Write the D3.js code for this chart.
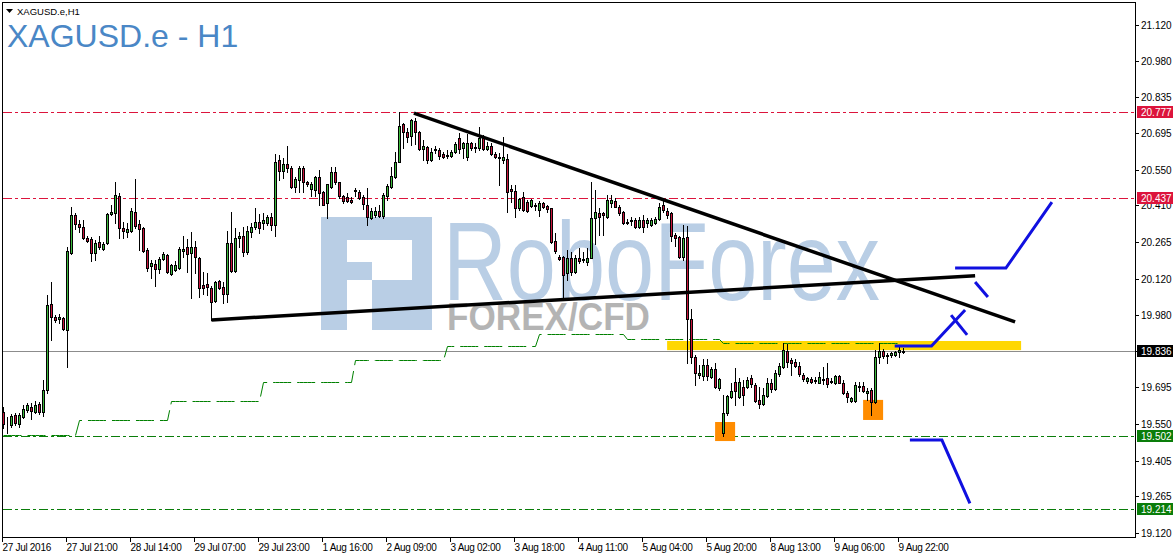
<!DOCTYPE html>
<html>
<head>
<meta charset="utf-8">
<script src="https://cdn.jsdelivr.net/npm/d3@7"></script>
<style>
  html, body { margin: 0; padding: 0; background: #ffffff; }
  svg { display: block; font-family: "Liberation Sans", Arial, sans-serif; }
</style>
</head>
<body>
<svg id="chart" width="1175" height="558"></svg>
<script>
// XAGUSD.e H1 candles, one entry per hourly bar (bar 0 = 27 Jul 2016)
const opens = [19.596,19.548,19.545,19.584,19.549,19.576,19.604,19.616,19.596,19.627,19.596,19.683,20.022,19.970,19.963,19.966,19.919,20.222,20.372,20.337,20.325,20.281,20.277,20.222,20.266,20.238,20.262,20.376,20.380,20.447,20.321,20.305,20.309,20.384,20.337,20.321,20.234,20.171,20.179,20.159,20.199,20.214,20.140,20.155,20.163,20.230,20.246,20.222,20.246,20.203,20.096,20.100,20.084,20.033,20.112,20.088,20.061,20.262,20.151,20.281,20.289,20.226,20.305,20.325,20.344,20.341,20.341,20.364,20.333,20.588,20.545,20.573,20.557,20.482,20.510,20.557,20.502,20.474,20.470,20.521,20.463,20.419,20.482,20.541,20.502,20.447,20.443,20.431,20.466,20.463,20.443,20.411,20.360,20.372,20.388,20.368,20.447,20.482,20.521,20.581,20.730,20.699,20.683,20.742,20.699,20.632,20.640,20.588,20.628,20.628,20.612,20.608,20.604,20.620,20.675,20.636,20.600,20.655,20.640,20.636,20.675,20.632,20.644,20.612,20.600,20.588,20.592,20.474,20.466,20.399,20.443,20.423,20.407,20.407,20.392,20.419,20.407,20.399,20.270,20.207,20.207,20.144,20.203,20.148,20.203,20.195,20.187,20.203,20.360,20.380,20.380,20.364,20.419,20.427,20.403,20.384,20.344,20.348,20.352,20.325,20.352,20.341,20.333,20.341,20.356,20.411,20.388,20.380,20.293,20.285,20.207,20.285,19.962,19.813,19.742,19.738,19.781,19.734,19.766,19.691,19.514,19.592,19.655,19.714,19.655,19.695,19.695,19.730,19.703,19.644,19.628,19.659,19.711,19.687,19.746,19.773,19.836,19.801,19.793,19.777,19.742,19.718,19.726,19.718,19.711,19.726,19.730,19.714,19.711,19.738,19.711,19.671,19.640,19.640,19.695,19.699,19.671,19.683,19.636,19.813,19.836,19.817,19.821,19.821,19.833,19.833];
const highs = [19.616,19.576,19.588,19.592,19.592,19.623,19.631,19.631,19.640,19.636,19.722,20.057,20.108,19.978,19.982,19.970,20.246,20.403,20.380,20.352,20.352,20.289,20.285,20.274,20.289,20.266,20.380,20.411,20.502,20.459,20.344,20.341,20.399,20.514,20.352,20.325,20.242,20.195,20.195,20.207,20.226,20.218,20.179,20.191,20.246,20.289,20.277,20.305,20.270,20.207,20.148,20.144,20.092,20.112,20.116,20.108,20.309,20.384,20.321,20.305,20.325,20.329,20.341,20.399,20.376,20.380,20.372,20.380,20.612,20.608,20.596,20.644,20.565,20.521,20.565,20.565,20.506,20.502,20.525,20.549,20.466,20.494,20.561,20.561,20.502,20.451,20.459,20.443,20.478,20.470,20.451,20.478,20.399,20.403,20.411,20.459,20.494,20.561,20.620,20.777,20.734,20.714,20.750,20.754,20.703,20.667,20.644,20.636,20.644,20.636,20.620,20.628,20.628,20.659,20.695,20.659,20.691,20.659,20.655,20.718,20.687,20.659,20.655,20.620,20.616,20.679,20.612,20.490,20.490,20.439,20.463,20.431,20.435,20.419,20.427,20.423,20.411,20.399,20.301,20.215,20.211,20.234,20.226,20.215,20.242,20.226,20.242,20.502,20.470,20.399,20.384,20.451,20.451,20.439,20.411,20.388,20.356,20.364,20.360,20.364,20.372,20.360,20.360,20.364,20.419,20.431,20.399,20.384,20.301,20.289,20.333,20.329,20.001,19.821,19.781,19.805,19.805,19.773,19.789,19.730,19.663,19.663,19.711,19.770,19.730,19.722,19.734,19.742,19.711,19.695,19.691,19.730,19.726,19.762,19.789,19.868,19.864,19.809,19.805,19.793,19.750,19.734,19.734,19.734,19.754,19.773,19.789,19.730,19.742,19.742,19.722,19.679,19.655,19.714,19.714,19.714,19.691,19.691,19.840,19.868,19.844,19.829,19.833,19.836,19.852,19.848];
const lows = [19.533,19.514,19.537,19.545,19.537,19.572,19.596,19.569,19.592,19.588,19.580,19.671,19.880,19.951,19.947,19.919,19.773,20.218,20.317,20.305,20.277,20.266,20.191,20.195,20.238,20.234,20.258,20.372,20.341,20.281,20.281,20.285,20.305,20.321,20.234,20.226,20.151,20.124,20.092,20.144,20.195,20.144,20.136,20.151,20.159,20.207,20.148,20.045,20.144,20.049,20.061,20.057,19.959,20.029,20.081,20.025,20.029,20.148,20.148,20.246,20.211,20.218,20.285,20.317,20.301,20.317,20.333,20.313,20.289,20.510,20.518,20.541,20.478,20.463,20.463,20.463,20.486,20.447,20.447,20.411,20.411,20.360,20.478,20.494,20.439,20.419,20.423,20.419,20.447,20.435,20.396,20.333,20.356,20.364,20.364,20.360,20.431,20.478,20.518,20.581,20.636,20.659,20.647,20.651,20.628,20.588,20.577,20.584,20.616,20.592,20.596,20.596,20.600,20.616,20.616,20.596,20.588,20.628,20.620,20.628,20.628,20.628,20.608,20.596,20.490,20.577,20.384,20.423,20.364,20.392,20.388,20.384,20.403,20.392,20.368,20.399,20.384,20.262,20.222,20.195,20.045,20.116,20.136,20.144,20.183,20.187,20.175,20.203,20.258,20.293,20.293,20.360,20.403,20.403,20.372,20.337,20.337,20.333,20.321,20.321,20.305,20.325,20.329,20.337,20.352,20.384,20.360,20.270,20.250,20.203,20.195,19.789,19.789,19.703,19.730,19.722,19.722,19.730,19.691,19.683,19.502,19.584,19.651,19.623,19.651,19.623,19.691,19.695,19.636,19.612,19.623,19.655,19.675,19.683,19.738,19.770,19.773,19.742,19.773,19.738,19.718,19.711,19.711,19.711,19.711,19.707,19.695,19.711,19.707,19.711,19.667,19.636,19.636,19.636,19.679,19.675,19.644,19.584,19.632,19.789,19.809,19.789,19.813,19.817,19.813,19.829];
const closes = [19.549,19.550,19.580,19.553,19.584,19.608,19.623,19.600,19.623,19.596,19.683,20.018,19.970,19.959,19.970,19.923,20.230,20.372,20.337,20.325,20.281,20.270,20.222,20.262,20.246,20.258,20.376,20.384,20.451,20.321,20.309,20.317,20.388,20.329,20.317,20.230,20.163,20.183,20.159,20.199,20.218,20.148,20.175,20.175,20.238,20.238,20.218,20.246,20.207,20.084,20.084,20.088,20.029,20.108,20.084,20.061,20.262,20.151,20.281,20.289,20.226,20.309,20.325,20.344,20.321,20.352,20.364,20.333,20.581,20.545,20.573,20.557,20.482,20.514,20.557,20.502,20.494,20.494,20.521,20.459,20.411,20.494,20.541,20.502,20.447,20.427,20.427,20.423,20.470,20.439,20.415,20.364,20.388,20.388,20.368,20.451,20.486,20.525,20.581,20.722,20.699,20.679,20.746,20.699,20.632,20.644,20.588,20.620,20.632,20.604,20.600,20.604,20.620,20.651,20.632,20.655,20.655,20.636,20.636,20.675,20.632,20.644,20.612,20.600,20.596,20.600,20.463,20.466,20.399,20.435,20.392,20.388,20.431,20.411,20.419,20.403,20.396,20.266,20.230,20.199,20.136,20.203,20.148,20.203,20.191,20.199,20.203,20.360,20.384,20.364,20.372,20.431,20.431,20.403,20.380,20.341,20.341,20.352,20.325,20.352,20.325,20.352,20.352,20.356,20.403,20.392,20.372,20.289,20.281,20.207,20.281,19.962,19.813,19.750,19.750,19.781,19.738,19.766,19.695,19.726,19.592,19.659,19.679,19.679,19.714,19.663,19.722,19.707,19.640,19.628,19.663,19.711,19.687,19.750,19.777,19.840,19.793,19.789,19.777,19.746,19.726,19.730,19.714,19.722,19.734,19.722,19.707,19.718,19.738,19.711,19.671,19.655,19.651,19.703,19.699,19.679,19.679,19.636,19.813,19.836,19.817,19.821,19.829,19.833,19.840,19.836];

// Stepped indicator: first bar of each step and its level
const stepStartBars = [0, 19, 42, 65, 88, 111, 134, 156, 180];
const stepLevels    = [19.504, 19.565, 19.640, 19.716, 19.801, 19.856, 19.903, 19.884, 19.870];

// Horizontal price levels
const resistanceLevels = [20.777, 20.437];
const supportLevels    = [19.502, 19.214];
const lastPrice = 19.836;

// Trend lines as [bar index, price] pairs
const fallingTrend = [[102.6, 20.773], [252.9, 19.951]];
const risingTrend  = [[52, 19.959], [242.9, 20.133]];

// Highlighted zones: [bar from, bar to, price high, price low]
const resistanceZone = [165.9, 254.4, 19.876, 19.840];
const bottomMarks = [[177.9, 182.9, 19.557, 19.482], [214.9, 219.9, 19.644, 19.565]];

// Projected paths as [bar index, price] points
const projUpA  = [[222.8, 19.856], [232.0, 19.856], [240.4, 19.998]];
const projUpA2 = [[236.9, 19.978], [240.9, 19.900]];
const projUpB  = [[237.9, 20.163], [250.6, 20.163], [262.1, 20.423]];
const projUpB2 = [[242.9, 20.108], [246.1, 20.049]];
const projDown = [[226.6, 19.486], [234.6, 19.486], [241.6, 19.237]];

// Axis labels
const timeLabelBars = [0,16,32,48,64,80,96,112,128,144,160,176,192,208,224];
const timeLabels = ["27 Jul 2016","27 Jul 21:00","28 Jul 14:00","29 Jul 07:00","29 Jul 23:00","1 Aug 16:00","2 Aug 09:00","3 Aug 02:00","3 Aug 18:00","4 Aug 11:00","5 Aug 04:00","5 Aug 20:00","8 Aug 13:00","9 Aug 06:00","9 Aug 22:00"];
const priceTicks = [21.120,20.980,20.835,20.695,20.550,20.410,20.265,20.120,19.980,19.835,19.695,19.550,19.405,19.265,19.120];

// ---------------------------------------------------------------
const svg = d3.select("#chart");
const frame = { left: 2.5, top: 2.5, right: 1135.5, bottom: 537.5 };

const x = d3.scaleLinear().domain([0, 1]).range([3.5, 7.5]);         // bar -> column centre
const y = d3.scaleLinear().domain([19.12, 21.12]).range([533, 25]);  // price -> pixel
const yr = p => Math.round(y(p)) + 0.5;

const COL = {
  bull: "#3cb93c", bear: "#c8143c", wick: "#000000",
  resist: "#dc143c", support: "#0a7d0a", step: "#008000",
  last: "#8c8c8c", trend: "#000000", zone: "#ffd700",
  mark: "#ff8c00", proj: "#1010e0", title: "#4a87c6",
  wmBlue: "#b9cee5", wmGray: "#b4b4b4"
};

svg.append("rect").attr("width", 1175).attr("height", 558).attr("fill", "#fff");

svg.append("defs").append("clipPath").attr("id", "plotClip")
  .append("rect").attr("x", 3).attr("y", 3).attr("width", 1132).attr("height", 534);

const plot = svg.append("g").attr("clip-path", "url(#plotClip)");

// ---- watermark ----
const wm = plot.append("g").attr("class", "watermark");
wm.append("path")
  .attr("fill", COL.wmBlue)
  .attr("fill-rule", "evenodd")
  .attr("d", "M321,217 H432 V330 H372 V280 H347 V330 H321 Z M347,240 V262 H412 V240 Z");
wm.append("rect").attr("x", 372).attr("y", 262).attr("width", 40).attr("height", 18)
  .attr("fill", "#fff");
wm.append("text")
  .attr("x", 443).attr("y", 300)
  .attr("font-size", 112).attr("fill", COL.wmBlue)
  .attr("textLength", 437).attr("lengthAdjust", "spacingAndGlyphs")
  .text("RoboForex");
wm.append("text")
  .attr("x", 447).attr("y", 330)
  .attr("font-size", 39).attr("font-weight", "bold").attr("fill", COL.wmGray)
  .attr("textLength", 203).attr("lengthAdjust", "spacingAndGlyphs")
  .text("FOREX/CFD");

// ---- horizontal levels ----
const levelLine = (p, color, dash) => plot.append("line")
  .attr("x1", 3).attr("x2", 1135).attr("y1", yr(p)).attr("y2", yr(p))
  .attr("stroke", color).attr("stroke-width", 1)
  .attr("stroke-dasharray", dash).attr("shape-rendering", "crispEdges");

resistanceLevels.forEach(p => levelLine(p, COL.resist, "9,3,3,3"));
supportLevels.forEach(p => levelLine(p, COL.support, "9,3,3,3"));
levelLine(lastPrice, COL.last, null);

// ---- zones ----
plot.append("rect")
  .attr("x", x(resistanceZone[0])).attr("width", x(resistanceZone[1]) - x(resistanceZone[0]))
  .attr("y", y(resistanceZone[2])).attr("height", y(resistanceZone[3]) - y(resistanceZone[2]))
  .attr("fill", COL.zone);

plot.selectAll("rect.mark").data(bottomMarks).join("rect").attr("class", "mark")
  .attr("x", d => x(d[0])).attr("width", d => x(d[1]) - x(d[0]))
  .attr("y", d => y(d[2])).attr("height", d => y(d[3]) - y(d[2]))
  .attr("fill", COL.mark);

// ---- stepped indicator ----
const nBars = opens.length;
const stepSeries = d3.range(nBars).map(i => {
  const k = d3.bisectRight(stepStartBars, i) - 1;
  return [i, stepLevels[k]];
});
plot.append("path")
  .attr("d", d3.line().x(d => x(d[0])).y(d => yr(d[1]))(stepSeries))
  .attr("fill", "none").attr("stroke", COL.step).attr("stroke-width", 1)
  .attr("stroke-dasharray", "18,6");

// ---- candles ----
const bars = d3.range(nBars).map(i => ({ i, o: opens[i], h: highs[i], l: lows[i], c: closes[i] }));
const cg = plot.append("g").attr("shape-rendering", "crispEdges");
cg.selectAll("line.wick").data(bars).join("line").attr("class", "wick")
  .attr("x1", d => x(d.i)).attr("x2", d => x(d.i))
  .attr("y1", d => Math.round(y(d.h))).attr("y2", d => Math.round(y(d.l)) + 1)
  .attr("stroke", COL.wick).attr("stroke-width", 1);
cg.selectAll("rect.body").data(bars).join("rect").attr("class", "body")
  .attr("x", d => x(d.i) - 1).attr("width", 2)
  .attr("y", d => yr(Math.max(d.o, d.c)))
  .attr("height", d => Math.max(0, yr(Math.min(d.o, d.c)) - yr(Math.max(d.o, d.c))))
  .attr("fill", d => d.c >= d.o ? COL.bull : COL.bear)
  .attr("stroke", "#000").attr("stroke-width", 1);

// ---- trend lines ----
const lineGen = d3.line().x(d => x(d[0])).y(d => y(d[1]));
[fallingTrend, risingTrend].forEach(t => plot.append("path")
  .attr("d", lineGen(t)).attr("fill", "none")
  .attr("stroke", COL.trend).attr("stroke-width", 3.5).attr("stroke-linecap", "butt"));

// ---- projections ----
[projUpA, projUpA2, projUpB, projUpB2, projDown].forEach(p => plot.append("path")
  .attr("d", lineGen(p)).attr("fill", "none")
  .attr("stroke", COL.proj).attr("stroke-width", 3).attr("stroke-linejoin", "miter"));

// ---- frame ----
svg.append("rect")
  .attr("x", frame.left).attr("y", frame.top)
  .attr("width", frame.right - frame.left).attr("height", frame.bottom - frame.top)
  .attr("fill", "none").attr("stroke", "#000").attr("stroke-width", 1)
  .attr("shape-rendering", "crispEdges");

// ---- price axis ----
const tagged = [...resistanceLevels, ...supportLevels, lastPrice];
const pa = svg.append("g").attr("font-size", 10).attr("fill", "#000");
priceTicks.forEach(p => {
  const yy = yr(p);
  pa.append("line").attr("x1", 1136).attr("x2", 1139).attr("y1", yy).attr("y2", yy)
    .attr("stroke", "#000").attr("shape-rendering", "crispEdges");
  // a tick label fully covered by a price tag is left out
  if (tagged.some(t => Math.abs(y(t) - y(p)) < 3)) return;
  pa.append("text").attr("x", 1141).attr("y", yy).attr("dy", "0.35em").text(p.toFixed(3));
});

const tag = (p, color) => {
  const yy = Math.round(y(p));
  svg.append("rect").attr("x", 1137).attr("y", yy - 6).attr("width", 36).attr("height", 12)
    .attr("fill", color);
  svg.append("text").attr("x", 1141).attr("y", yy + 0.5).attr("dy", "0.35em")
    .attr("font-size", 10).attr("fill", "#fff").text(p.toFixed(3));
};
resistanceLevels.forEach(p => tag(p, COL.resist));
supportLevels.forEach(p => tag(p, COL.support));
tag(lastPrice, "#000");

// ---- time axis ----
const ta = svg.append("g").attr("font-size", 10).attr("fill", "#000");
timeLabelBars.forEach((b, k) => {
  const xx = Math.round(x(b)) - 1.5;
  ta.append("line").attr("x1", xx).attr("x2", xx).attr("y1", 538).attr("y2", 542)
    .attr("stroke", "#000").attr("shape-rendering", "crispEdges");
  ta.append("text").attr("x", xx).attr("y", 551)
    .attr("letter-spacing", "-0.3").text(timeLabels[k]);
});

// ---- titles ----
svg.append("path").attr("d", "M6,9 H13 L9.5,13 Z").attr("fill", "#000");
svg.append("text").attr("x", 17).attr("y", 15).attr("font-size", 9.5).attr("fill", "#000")
  .text("XAGUSD.e,H1");
svg.append("text").attr("x", 7).attr("y", 47).attr("font-size", 32).attr("fill", COL.title)
  .text("XAGUSD.e - H1");
</script>
</body>
</html>
